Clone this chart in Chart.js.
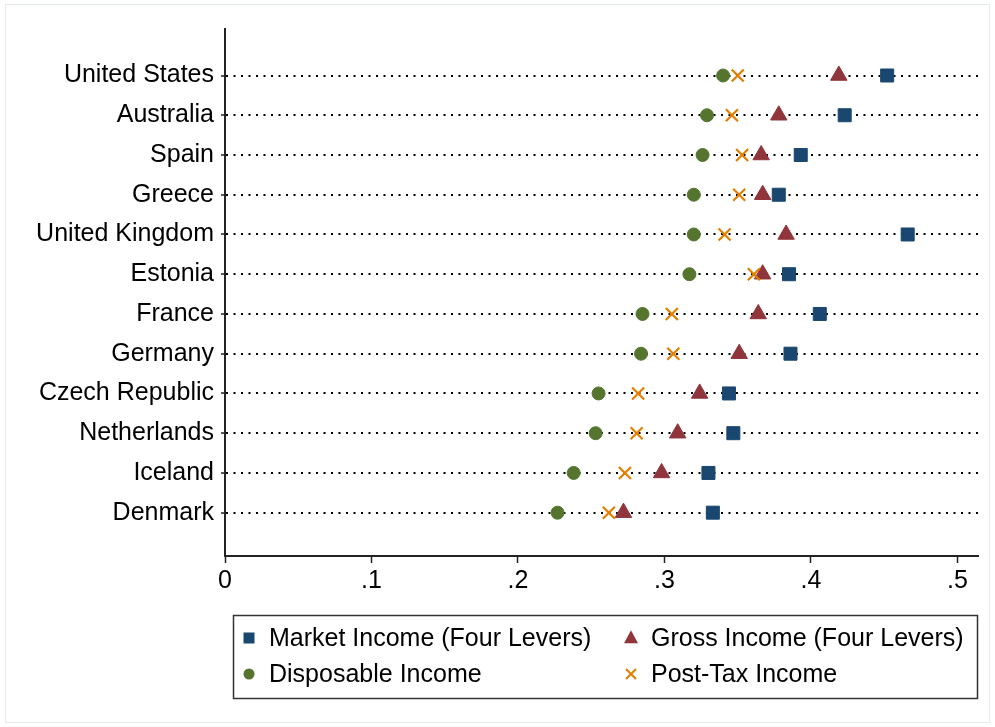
<!DOCTYPE html>
<html>
<head>
<meta charset="utf-8">
<script src="https://cdn.jsdelivr.net/npm/chart.js@4/dist/chart.umd.min.js"></script>
<style>
  body { margin: 0; background: #fff; }
  #wrap { width: 995px; height: 727px; }
</style>
</head>
<body>
<div id="wrap"><canvas id="giniChart" width="995" height="727"></canvas></div>
<script>
const countries = ['United States', 'Australia', 'Spain', 'Greece', 'United Kingdom', 'Estonia',
  'France', 'Germany', 'Czech Republic', 'Netherlands', 'Iceland', 'Denmark'];
const marketIncome = [0.452, 0.423, 0.393, 0.378, 0.466, 0.385, 0.406, 0.386, 0.344, 0.347, 0.330, 0.333];
const grossIncome = [0.419, 0.378, 0.366, 0.367, 0.383, 0.367, 0.364, 0.351, 0.324, 0.309, 0.298, 0.272];
const disposableIncome = [0.340, 0.329, 0.326, 0.320, 0.320, 0.317, 0.285, 0.284, 0.255, 0.253, 0.238, 0.227];
const postTaxIncome = [0.350, 0.346, 0.353, 0.351, 0.341, 0.361, 0.305, 0.306, 0.282, 0.281, 0.273, 0.262];
const xTicks = [0, 0.1, 0.2, 0.3, 0.4, 0.5];

const FONT = "'Liberation Sans', Arial, sans-serif";
const navy = '#1a476f', maroon = '#90353b', green = '#55752f', orange = '#e37e00';

function toPoints(values) {
  return values.map((v, i) => ({ x: v, y: i }));
}

// marker drawing used for the boxed legend
function marker(ctx, style, color, x, y, r) {
  ctx.save();
  ctx.fillStyle = color;
  ctx.strokeStyle = color;
  ctx.beginPath();
  if (style === 'rect') {
    ctx.fillRect(x - r, y - r, 2 * r, 2 * r);
  } else if (style === 'circle') {
    ctx.arc(x, y, r, 0, Math.PI * 2);
    ctx.fill();
  } else if (style === 'triangle') {
    ctx.moveTo(x, y - r * 1.1);
    ctx.lineTo(x + r, y + r * 0.75);
    ctx.lineTo(x - r, y + r * 0.75);
    ctx.closePath();
    ctx.fill();
  } else {
    ctx.lineWidth = 2;
    ctx.moveTo(x - r, y - r); ctx.lineTo(x + r, y + r);
    ctx.moveTo(x + r, y - r); ctx.lineTo(x - r, y + r);
    ctx.stroke();
  }
  ctx.restore();
}

const boxLegend = {
  id: 'boxLegend',
  beforeDraw(chart) {
    const ctx = chart.ctx;
    ctx.save();
    ctx.fillStyle = '#fff';
    ctx.fillRect(0, 0, chart.width, chart.height);
    ctx.strokeStyle = '#e3ebef';
    ctx.lineWidth = 1;
    ctx.strokeRect(5.5, 4.5, 984, 718);
    ctx.restore();
  },
  afterDraw(chart) {
    const ctx = chart.ctx;
    ctx.save();
    ctx.strokeStyle = '#333';
    ctx.lineWidth = 1.5;
    ctx.strokeRect(233.5, 615.5, 744, 83);
    ctx.font = '25px ' + FONT;
    ctx.fillStyle = '#000';
    ctx.textBaseline = 'middle';
    const items = [
      { label: 'Market Income (Four Levers)', style: 'rect', color: navy, x: 249, y: 638 },
      { label: 'Gross Income (Four Levers)', style: 'triangle', color: maroon, x: 631, y: 638 },
      { label: 'Disposable Income', style: 'circle', color: green, x: 249, y: 674 },
      { label: 'Post-Tax Income', style: 'cross', color: orange, x: 631, y: 674 }
    ];
    items.forEach(it => {
      const r = it.style === 'rect' ? 5.5 : it.style === 'cross' ? 5 : it.style === 'circle' ? 5.5 : 7;
      marker(ctx, it.style, it.color, it.x, it.y, r);
      ctx.fillText(it.label, it.x + 20, it.y + 1);
    });
    ctx.restore();
  }
};

const ctx = document.getElementById('giniChart').getContext('2d');
new Chart(ctx, {
  type: 'scatter',
  data: {
    datasets: [
      {
        label: 'Disposable Income',
        data: toPoints(disposableIncome),
        pointStyle: 'circle',
        pointRadius: 6.5,
        backgroundColor: green,
        borderColor: green,
        borderWidth: 1
      },
      {
        label: 'Post-Tax Income',
        data: toPoints(postTaxIncome),
        pointStyle: 'crossRot',
        pointRadius: 8.5,
        backgroundColor: orange,
        borderColor: orange,
        borderWidth: 2.2
      },
      {
        label: 'Gross Income (Four Levers)',
        data: toPoints(grossIncome),
        pointStyle: 'triangle',
        pointRadius: 9.5,
        backgroundColor: maroon,
        borderColor: maroon,
        borderWidth: 1
      },
      {
        label: 'Market Income (Four Levers)',
        data: toPoints(marketIncome),
        pointStyle: 'rect',
        pointRadius: 9.2,
        backgroundColor: navy,
        borderColor: navy,
        borderWidth: 1
      }
    ]
  },
  options: {
    responsive: false,
    animation: false,
    layout: {
      padding: { top: 29, right: 17, left: 0, bottom: 0 }
    },
    scales: {
      x: {
        type: 'linear',
        min: 0,
        max: 0.514,
        afterFit: function(scale) { scale.height = 171; },
        afterBuildTicks: function(scale) {
          scale.ticks = xTicks.map(v => ({ value: v }));
        },
        border: { display: true, color: '#222', width: 2 },
        grid: {
          drawOnChartArea: false,
          drawTicks: true,
          tickLength: 7,
          tickColor: '#222',
          tickWidth: 1.5
        },
        ticks: {
          color: '#000',
          padding: 3,
          maxRotation: 0,
          font: { family: FONT, size: 25 },
          callback: function(value) {
            if (value === 0) return '0';
            return '.' + Math.round(value * 10);
          }
        }
      },
      y: {
        type: 'linear',
        reverse: true,
        min: -1.17,
        max: 12.09,
        afterFit: function(scale) { scale.width = 225; },
        afterBuildTicks: function(scale) {
          scale.ticks = countries.map((c, i) => ({ value: i }));
        },
        border: { display: true, color: '#222', width: 2, dash: [2, 5.5] },
        grid: {
          color: '#000',
          lineWidth: 2,
          drawTicks: true,
          tickLength: 4,
          tickColor: '#222',
          tickWidth: 1.5,
          tickBorderDash: []
        },
        ticks: {
          color: '#000',
          padding: 7,
          font: { family: FONT, size: 25 },
          callback: function(value) {
            return countries[value];
          }
        }
      }
    },
    plugins: {
      legend: { display: false },
      tooltip: { enabled: false }
    }
  },
  plugins: [boxLegend]
});
</script>
</body>
</html>
